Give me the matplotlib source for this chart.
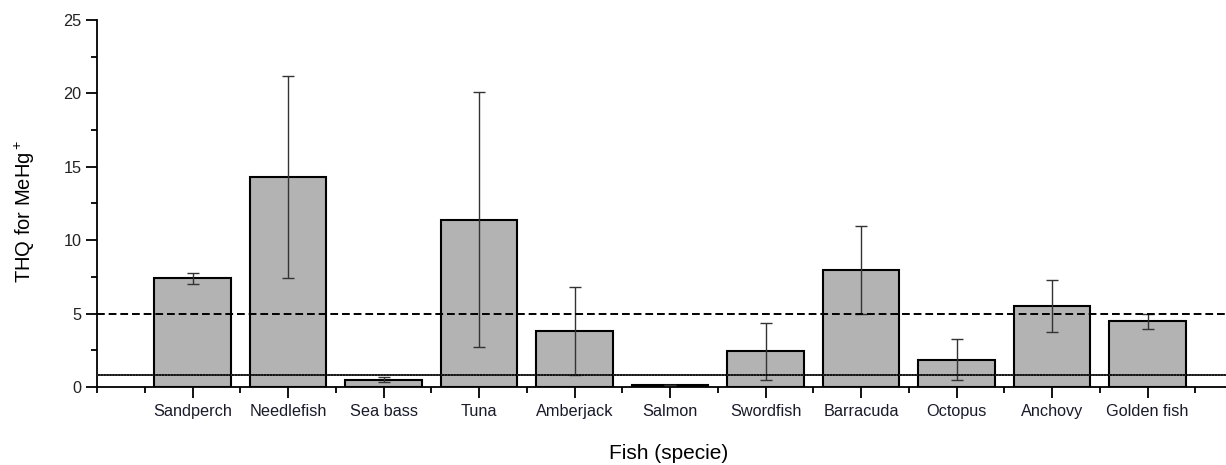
# -*- coding: utf-8 -*-
"""
Bar chart of THQ for MeHg+ by fish species, with error bars and reference lines
"""
import numpy as np
import matplotlib.pyplot as plt
from matplotlib.ticker import MultipleLocator

plt.rcParams['font.family'] = ['Liberation Sans', 'DejaVu Sans']
plt.rcParams['mathtext.default'] = 'regular'

# data
species = ['Sandperch', 'Needlefish', 'Sea bass', 'Tuna', 'Amberjack', 'Salmon',
           'Swordfish', 'Barracuda', 'Octopus', 'Anchovy', 'Golden fish']
thq = [7.4, 14.3, 0.5, 11.4, 3.8, 0.15, 2.42, 7.95, 1.86, 5.53, 4.47]
err = [0.35, 6.9, 0.15, 8.7, 3.0, 0.0, 1.94, 3.0, 1.4, 1.75, 0.52]
limit_hi = 5.0
limit_lo = 0.85

x = np.arange(1, len(species) + 1)

# initializing figure
fig = plt.figure(figsize=(12.26, 4.65), dpi=100)
ax = fig.add_axes([97 / 1226, 78 / 465, 1146 / 1226, 367 / 465])

ax.bar(x, thq, width=0.8, color='#b3b3b3', edgecolor='black', linewidth=1.5, zorder=2)
ax.errorbar(x, thq, yerr=err, fmt='none', ecolor='#333333', elinewidth=1.0,
            capsize=4.5, capthick=1.0, zorder=3)

# reference lines
ax.axhline(limit_hi, color='black', linestyle=(0, (4, 2)), linewidth=1.4, zorder=4)
ax.axhline(limit_lo, color='black', linestyle='-', linewidth=1.3, zorder=4)
ax.axhline(limit_lo, color='white', linestyle=(0, (2, 5)), linewidth=0.3, zorder=4)

ax.set_xlim(0, 12)
ax.set_ylim(0, 25)

ax.set_xticks(x)
ax.set_xticklabels(species)
ax.xaxis.set_minor_locator(MultipleLocator(0.5))
ax.yaxis.set_major_locator(MultipleLocator(5))
ax.yaxis.set_minor_locator(MultipleLocator(2.5))

ax.spines['top'].set_visible(False)
ax.spines['right'].set_visible(False)
ax.spines['left'].set_linewidth(1.3)
ax.spines['bottom'].set_linewidth(1.3)

ax.tick_params(which='major', direction='out', length=8, width=1.3, labelsize=11.7, colors='black')
ax.tick_params(which='minor', direction='out', length=4, width=1.3)
ax.tick_params(axis='x', which='major', pad=4, labelcolor='#1a1a2a')
ax.tick_params(axis='y', labelcolor='#222222', pad=3)

ax.set_ylabel('THQ for MeHg$^+$', fontsize=14.5)
ax.yaxis.set_label_coords(-0.052, 0.48)
ax.set_xlabel('Fish (specie)', fontsize=15)
ax.xaxis.set_label_coords((669 - 97) / 1146, -0.155)

fig.savefig('out.png', dpi=100)
